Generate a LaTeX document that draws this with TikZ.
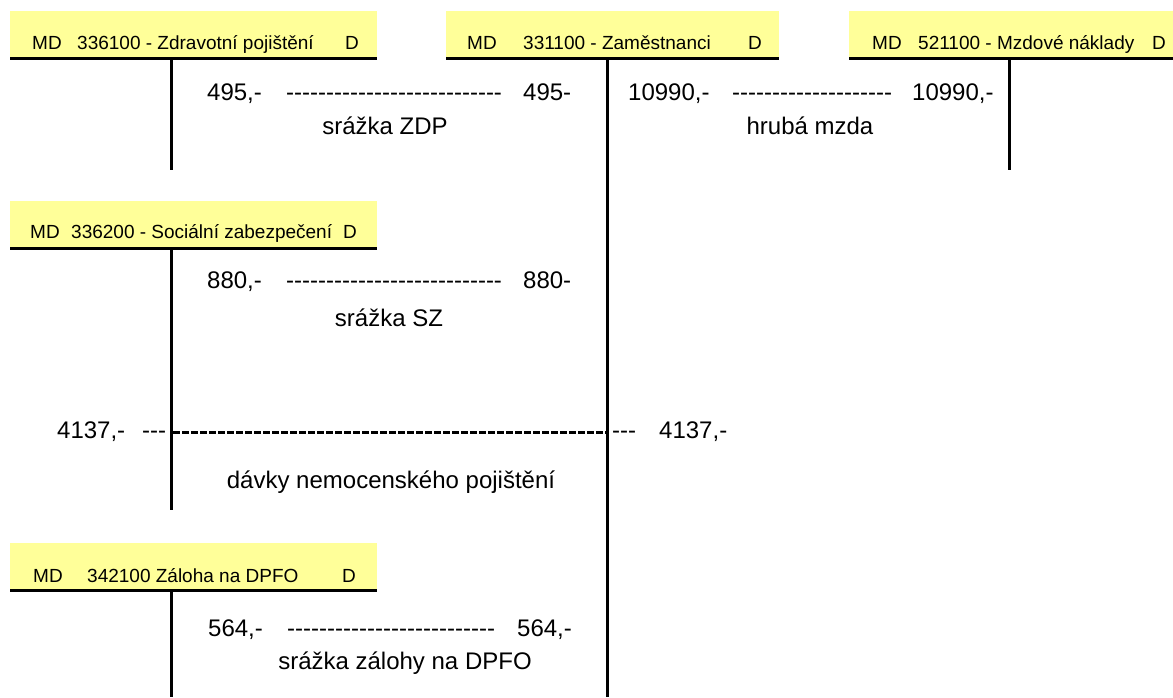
\documentclass[tikz,border=0pt]{standalone}
\usepackage{fontspec}
\setmainfont{Liberation Sans}
\definecolor{hdrcol}{HTML}{FFFF99}
\newcommand\hyph[1]{\foreach\k in {1,...,#1}{\mbox{-}}}
\begin{document}
\begin{tikzpicture}[x=1pt,y=-1pt,
  hbox/.style={fill=hdrcol,draw=none,anchor=north west,inner sep=0pt,outer sep=0pt},
  hd/.style={anchor=base west,inner sep=0pt,font=\fontsize{19}{19}\selectfont},
  tx/.style={anchor=base west,inner sep=0pt,font=\fontsize{24}{24}\selectfont},
  tc/.style={anchor=base,inner sep=0pt,font=\fontsize{24}{24}\selectfont},
  tline/.style={line width=3pt},
  thickdash/.style={line width=3pt,dash pattern=on 7pt off 2pt}]
\useasboundingbox (0,0) rectangle (1173,697);
% header boxes
\node[hbox,minimum width=367pt,minimum height=46pt] (h1) at (10,11) {};
\node[hbox,minimum width=333pt,minimum height=46pt] (h2) at (446,11) {};
\node[hbox,minimum width=324pt,minimum height=46pt] (h3) at (849,11) {};
\node[hbox,minimum width=367pt,minimum height=46pt] (h4) at (10,201) {};
\node[hbox,minimum width=367pt,minimum height=46pt] (h5) at (10,543) {};
% header texts
\node[hd] (h1a) at (32,49) {MD};
\node[hd] (h1b) at (77,49) {336100 - Zdravotní pojištění};
\node[hd] (h1c) at (345,49) {D};
\node[hd] (h2a) at (467,49) {MD};
\node[hd] (h2b) at (523,49) {331100 - Zaměstnanci};
\node[hd] (h2c) at (748,49) {D};
\node[hd] (h3a) at (872,49) {MD};
\node[hd] (h3b) at (918,49) {521100 - Mzdové náklady};
\node[hd] (h3c) at (1152,49) {D};
\node[hd] (h4a) at (30,238) {MD};
\node[hd] (h4b) at (71,238) {336200 - Sociální zabezpečení};
\node[hd] (h4c) at (343,238) {D};
\node[hd] (h5a) at (33,582) {MD};
\node[hd] (h5b) at (87,582) {342100 Záloha na DPFO};
\node[hd] (h5c) at (342,582) {D};
% T-account lines
\coordinate (t1) at (171.5,58.5);
\coordinate (b1) at (171.5,170);
\coordinate (t2) at (607.5,58.5);
\coordinate (b2) at (607.5,697);
\coordinate (t3) at (1009,58.5);
\coordinate (b3) at (1009,170);
\coordinate (t4) at (171.5,248.5);
\coordinate (b4) at (171.5,510);
\coordinate (t5) at (171.5,589.5);
\coordinate (b5) at (171.5,697);
\draw[tline] (h1.south west) ++(0,1.5) -- ([yshift=-1.5pt]h1.south east);
\draw[tline] (h2.south west) ++(0,1.5) -- ([yshift=-1.5pt]h2.south east);
\draw[tline] (h3.south west) ++(0,1.5) -- ([yshift=-1.5pt]h3.south east);
\draw[tline] (h4.south west) ++(0,1.5) -- ([yshift=-1.5pt]h4.south east);
\draw[tline] (h5.south west) ++(0,1.5) -- ([yshift=-1.5pt]h5.south east);
\draw[tline] (t1) -- (b1);
\draw[tline] (t2) -- (b2);
\draw[tline] (t3) -- (b3);
\draw[tline] (t4) -- (b4);
\draw[tline] (t5) -- (b5);
% row 1
\node[tx] (r1a) at (207,100) {495,-};
\node[tx] (r1d) at (286,100) {\hyph{27}};
\node[tx] (r1b) at (523,100) {495-};
\node[tc] (r1l) at (385,134) {srážka ZDP};
\node[tx] (r1c) at (628,100) {10990,-};
\node[tx] (r1e) at (732,100) {\hyph{20}};
\node[tx] (r1f) at (912,100) {10990,-};
\node[tc] (r1m) at (810,134) {hrubá mzda};
% row 2
\node[tx] (r2a) at (207,288) {880,-};
\node[tx] (r2d) at (286,288) {\hyph{27}};
\node[tx] (r2b) at (523,288) {880-};
\node[tc] (r2l) at (389,326) {srážka SZ};
% row 3
\node[tx] (r3a) at (57,438) {4137,-};
\node[tx] (r3d) at (142,438) {\hyph{3}};
\coordinate (d1) at (173,432);
\coordinate (d2) at (606,432);
\draw[thickdash] (d1) -- (d2);
\node[tx] (r3e) at (612,438) {\hyph{3}};
\node[tx] (r3b) at (659,438) {4137,-};
\node[tc] (r3l) at (391,488) {dávky nemocenského pojištění};
% row 5
\node[tx] (r5a) at (208,636) {564,-};
\node[tx] (r5d) at (287,636) {\hyph{26}};
\node[tx] (r5b) at (517,636) {564,-};
\node[tc] (r5l) at (405,669) {srážka zálohy na DPFO};
\end{tikzpicture}
\end{document}
